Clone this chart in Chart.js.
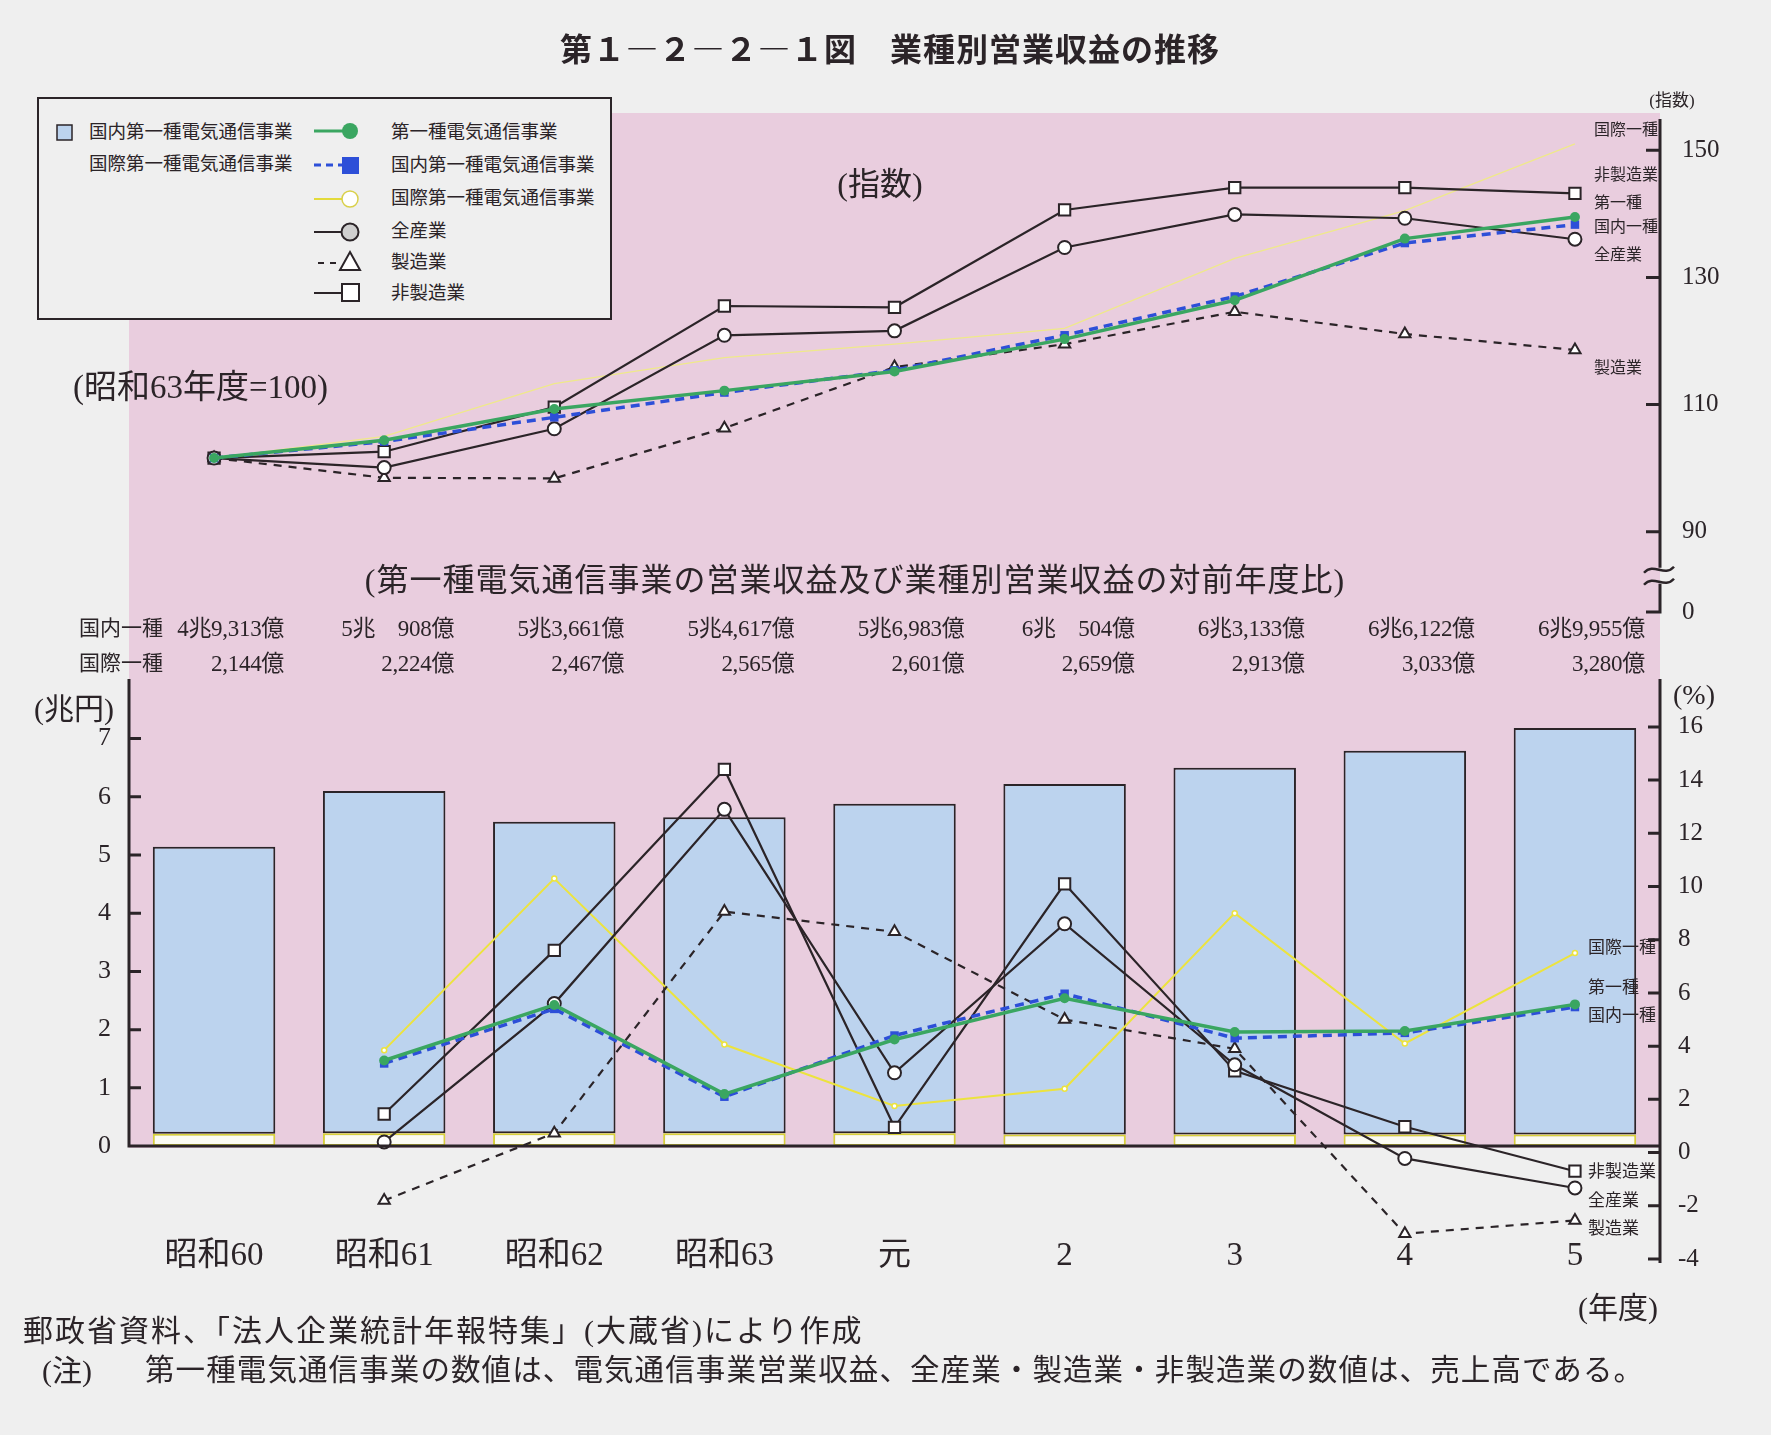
<!DOCTYPE html>
<html lang="ja">
<head>
<meta charset="utf-8">
<title>第1-2-2-1図 業種別営業収益の推移</title>
<script src="https://cdn.jsdelivr.net/npm/chart.js@4.4.1/dist/chart.umd.min.js"></script>
<style>
  html, body { margin: 0; padding: 0; background: #efefef; }
  #page { position: relative; width: 1771px; height: 1435px; overflow: hidden;
          font-family: "Liberation Serif", "Noto Sans CJK JP", serif; color: #2b2428; }
  #pink { position: absolute; left: 129px; top: 113px; width: 1531px; height: 1035px; background: #e9cdde; }
  canvas { position: absolute; left: 0; top: 0; }
  #legend { position: absolute; left: 0; top: 0; }
  .t { position: absolute; white-space: nowrap; line-height: 1; }
</style>
</head>
<body>
<div id="page">
  <div id="pink"></div>
  <canvas id="indexChart" width="1771" height="1435"></canvas>
  <canvas id="revenueChart" width="1771" height="1435"></canvas>
  <svg id="legend" width="620" height="330">
    <rect x="38" y="98" width="573" height="221" fill="#efefef" stroke="#2b2428" stroke-width="2"/>
    <rect x="57" y="125" width="15" height="15" fill="#bcd3ee" stroke="#2b2428" stroke-width="1.5"/>
    <line x1="314" y1="131" x2="348" y2="131" stroke="#3aa661" stroke-width="3"/>
    <circle cx="350" cy="131" r="8" fill="#3aa661"/>
    <line x1="314" y1="165" x2="344" y2="165" stroke="#2d4fd8" stroke-width="3" stroke-dasharray="7 5"/>
    <rect x="342" y="157" width="17" height="17" fill="#2d4fd8"/>
    <line x1="314" y1="199" x2="342" y2="199" stroke="#e3da3a" stroke-width="2"/>
    <circle cx="350" cy="199" r="8" fill="#fff" stroke="#d9d04a" stroke-width="1.5"/>
    <line x1="314" y1="232" x2="342" y2="232" stroke="#2b2428" stroke-width="2"/>
    <circle cx="350" cy="232" r="8.5" fill="#cfcfcf" stroke="#2b2428" stroke-width="2"/>
    <line x1="318" y1="263" x2="340" y2="263" stroke="#2b2428" stroke-width="2" stroke-dasharray="6 6"/>
    <polygon points="350,252 360,270 340,270" fill="#fff" stroke="#2b2428" stroke-width="2"/>
    <line x1="314" y1="293" x2="342" y2="293" stroke="#2b2428" stroke-width="2"/>
    <rect x="342" y="284" width="17" height="17" fill="#fff" stroke="#2b2428" stroke-width="2"/>
  </svg>
  <div id="texts"></div>
</div>
<script>
// 年度
const years = ["昭和60", "昭和61", "昭和62", "昭和63", "元", "2", "3", "4", "5"];

// 上段：指数
const idxTotal    = [101.6, 104.4, 109.3, 112.2, 115.2, 120.3, 126.4, 136.1, 139.5];
const idxDomestic = [101.6, 104.2, 108.0, 111.9, 115.4, 120.9, 127.0, 135.4, 138.3];
const idxIntl     = [101.6, 105.0, 113.3, 117.4, 119.5, 122.0, 133.0, 140.5, 151.0];
const idxAll      = [101.6, 100.1, 106.2, 120.9, 121.6, 134.7, 139.9, 139.3, 136.0];
const idxMfg      = [101.6, 98.5, 98.4, 106.3, 115.9, 119.5, 124.6, 121.1, 118.6];
const idxNonMfg   = [101.6, 102.6, 109.6, 125.5, 125.3, 140.6, 144.1, 144.1, 143.2];
const idxTicks = [90, 110, 130, 150];
const idxMin = 77.4, idxMax = 154.9, idxBreak = 83.1;

// 下段：営業収益（兆円）
const revIntl     = [0.21, 0.22, 0.22, 0.22, 0.22, 0.2, 0.2, 0.2, 0.2];
const revDomestic = [4.93, 5.88, 5.35, 5.43, 5.66, 6.02, 6.30, 6.59, 6.98];
const revDomesticText = ["4兆9,313億", "5兆　908億", "5兆3,661億", "5兆4,617億", "5兆6,983億",
                         "6兆　504億", "6兆3,133億", "6兆6,122億", "6兆9,955億"];
const revIntlText = ["2,144億", "2,224億", "2,467億", "2,565億", "2,601億",
                     "2,659億", "2,913億", "3,033億", "3,280億"];
const yenTicks = [0, 1, 2, 3, 4, 5, 6, 7];

// 下段：対前年度比（%）
const pctTotal    = [null, 3.46, 5.55, 2.2, 4.25, 5.8, 4.53, 4.57, 5.57];
const pctDomestic = [null, 3.35, 5.4, 2.1, 4.4, 5.97, 4.3, 4.5, 5.47];
const pctIntl     = [null, 3.85, 10.3, 4.06, 1.75, 2.4, 9.0, 4.1, 7.5];
const pctAll      = [null, 0.4, 5.6, 12.9, 3.0, 8.6, 3.3, -0.22, -1.33];
const pctMfg      = [null, -1.8, 0.73, 9.06, 8.3, 5.0, 3.9, -3.05, -2.55];
const pctNonMfg   = [null, 1.45, 7.6, 14.4, 0.95, 10.1, 3.07, 0.97, -0.7];
const pctTicks = [-4, -2, 0, 2, 4, 6, 8, 10, 12, 14, 16];

const ink = "#2b2428";
const green = "#3aa661", blue = "#2d4fd8", yellow = "#ece33e";
Chart.defaults.font.family = '"Liberation Serif", "Noto Sans CJK JP", serif';
Chart.defaults.color = ink;

function lineSet(label, data, color, opts) {
    return Object.assign({
        type: "line", label: label, data: data,
        borderColor: color, backgroundColor: "#fff",
        pointBorderColor: color, pointBorderWidth: 2,
        borderWidth: 2.2, tension: 0, order: 1
    }, opts);
}

// 上段の軸（右側・内向き目盛・省略記号）
const indexAxis = {
    id: "indexAxis",
    afterDatasetsDraw(chart) {
        const { ctx, chartArea: a, scales: { y } } = chart;
        const x = a.right;
        const yb = y.getPixelForValue(idxBreak);
        ctx.save();
        ctx.strokeStyle = ink;
        ctx.lineWidth = 3;
        ctx.beginPath();
        ctx.moveTo(x, a.top); ctx.lineTo(x, yb - 8);
        ctx.moveTo(x, yb + 8); ctx.lineTo(x, a.bottom + 1.5);
        [idxMin, ...idxTicks].forEach(v => {
            const py = y.getPixelForValue(v);
            ctx.moveTo(x - 14, py); ctx.lineTo(x + 1.5, py);
        });
        ctx.stroke();
        ctx.lineWidth = 2.5;
        [-6, 6].forEach(d => {
            ctx.beginPath();
            ctx.moveTo(x - 16, yb + d + 3);
            ctx.bezierCurveTo(x - 6, yb + d - 8, x + 4, yb + d + 8, x + 14, yb + d - 3);
            ctx.stroke();
        });
        ctx.restore();
    }
};

// 下段の軸（左右・内向き目盛・基線）
const frameAxes = {
    id: "frameAxes",
    afterDatasetsDraw(chart) {
        const { ctx, chartArea: a, scales: { yL, yR } } = chart;
        const y0 = yL.getPixelForValue(0);
        ctx.save();
        ctx.strokeStyle = ink;
        ctx.lineWidth = 3;
        ctx.beginPath();
        ctx.moveTo(a.left, a.top - 4); ctx.lineTo(a.left, y0); ctx.lineTo(a.right, y0);
        ctx.moveTo(a.right, a.top - 4); ctx.lineTo(a.right, a.bottom + 4);
        yenTicks.forEach(v => {
            const py = yL.getPixelForValue(v);
            ctx.moveTo(a.left, py); ctx.lineTo(a.left + 12, py);
        });
        pctTicks.forEach(v => {
            const py = yR.getPixelForValue(v);
            ctx.moveTo(a.right - 12, py); ctx.lineTo(a.right, py);
        });
        ctx.stroke();
        ctx.restore();
    }
};

new Chart(document.getElementById("indexChart"), {
    type: "line",
    data: {
        labels: years,
        datasets: [
            lineSet("第一種電気通信事業", idxTotal, green, { borderWidth: 3.5, pointStyle: "circle", pointRadius: 5, backgroundColor: green, pointBorderWidth: 0 }),
            lineSet("国内第一種電気通信事業", idxDomestic, blue, { borderWidth: 3.5, borderDash: [9, 6], pointStyle: "rect", pointRadius: 6, backgroundColor: blue, pointBorderWidth: 0 }),
            lineSet("全産業", idxAll, ink, { pointStyle: "circle", pointRadius: 6.5 }),
            lineSet("製造業", idxMfg, ink, { borderDash: [8, 7], pointStyle: "triangle", pointRadius: 6.5 }),
            lineSet("非製造業", idxNonMfg, ink, { pointStyle: "rect", pointRadius: 8 }),
            lineSet("国際第一種電気通信事業", idxIntl, "#efe98a", { borderWidth: 1.3, pointRadius: 0 })
        ]
    },
    options: {
        responsive: false,
        animation: false,
        layout: { padding: { left: 129, top: 119, right: 0, bottom: 1435 - 612 } },
        plugins: { legend: { display: false }, tooltip: { enabled: false } },
        scales: {
            x: { display: false, offset: true },
            y: {
                position: "right", min: idxMin, max: idxMax,
                afterFit(s) { s.width = 111; },
                afterBuildTicks(s) { s.ticks = [idxMin, ...idxTicks].map(v => ({ value: v })); },
                grid: { display: false, drawTicks: false },
                border: { display: false },
                ticks: { padding: 22, font: { size: 25 }, callback: v => (v < 80 ? "0" : v) }
            }
        }
    },
    plugins: [indexAxis]
});

const revenueChart = new Chart(document.getElementById("revenueChart"), {
    data: {
        labels: years,
        datasets: [
            { type: "bar", label: "国際第一種電気通信事業", data: revIntl, yAxisID: "yL", order: 10,
              backgroundColor: "#fbfbf2", borderColor: "#d8d23a", borderWidth: 2, borderSkipped: false,
              barPercentage: 0.72, categoryPercentage: 1 },
            { type: "bar", label: "国内第一種電気通信事業", data: revDomestic, yAxisID: "yL", order: 10,
              backgroundColor: "#bcd3ee", borderColor: ink, borderWidth: 2, borderSkipped: false,
              barPercentage: 0.72, categoryPercentage: 1 },
            lineSet("第一種電気通信事業", pctTotal, green, { yAxisID: "yR", borderWidth: 3.5, pointStyle: "circle", pointRadius: 5, backgroundColor: green, pointBorderWidth: 0 }),
            lineSet("国内第一種電気通信事業", pctDomestic, blue, { yAxisID: "yR", borderWidth: 3.5, borderDash: [9, 6], pointStyle: "rect", pointRadius: 6, backgroundColor: blue, pointBorderWidth: 0 }),
            lineSet("全産業", pctAll, ink, { yAxisID: "yR", pointStyle: "circle", pointRadius: 6.5 }),
            lineSet("製造業", pctMfg, ink, { yAxisID: "yR", borderDash: [8, 7], pointStyle: "triangle", pointRadius: 6.5 }),
            lineSet("非製造業", pctNonMfg, ink, { yAxisID: "yR", pointStyle: "rect", pointRadius: 8 }),
            lineSet("国際第一種電気通信事業", pctIntl, yellow, { yAxisID: "yR", borderWidth: 2, pointRadius: 2.5, pointBorderWidth: 1.5 })
        ]
    },
    options: {
        responsive: false,
        animation: false,
        layout: { padding: { left: 0, top: 683, right: 0, bottom: 0 } },
        plugins: { legend: { display: false }, tooltip: { enabled: false } },
        scales: {
            x: {
                stacked: true, offset: true,
                afterFit(s) { s.height = 1435 - 1259; },
                grid: { display: false, drawTicks: false },
                border: { display: false },
                ticks: { display: false }
            },
            yL: {
                position: "left", stacked: true, min: -1.94, max: 7.955,
                afterFit(s) { s.width = 129; },
                afterBuildTicks(s) { s.ticks = yenTicks.map(v => ({ value: v })); },
                grid: { display: false, drawTicks: false },
                border: { display: false },
                ticks: { padding: 18, font: { size: 26 } }
            },
            yR: {
                position: "right", min: -4, max: 17.65,
                afterFit(s) { s.width = 111; },
                afterBuildTicks(s) { s.ticks = pctTicks.map(v => ({ value: v })); },
                grid: { display: false, drawTicks: false },
                border: { display: false },
                ticks: { padding: 18, font: { size: 25 } }
            }
        }
    },
    plugins: [frameAxes]
});

// 文字
const box = document.getElementById("texts");
function addText(str, x, y, size, anchor, extra) {
    const d = document.createElement("div");
    d.className = "t";
    d.textContent = str;
    d.style.left = x + "px";
    d.style.top = y + "px";
    d.style.fontSize = size + "px";
    const tx = anchor === "center" ? "-50%" : anchor === "right" ? "-100%" : "0";
    d.style.transform = "translate(" + tx + ", -50%)";
    Object.assign(d.style, extra || {});
    box.appendChild(d);
}

addText("第１―２―２―１図　業種別営業収益の推移", 890, 47, 32, "center",
        { fontFamily: '"Noto Sans CJK JP", sans-serif', fontWeight: "bold", letterSpacing: "1px" });

// 凡例
addText("国内第一種電気通信事業", 89, 132, 18.5, "left");
addText("国際第一種電気通信事業", 89, 164, 18.5, "left");
["第一種電気通信事業", "国内第一種電気通信事業", "国際第一種電気通信事業", "全産業", "製造業", "非製造業"]
    .forEach((s, i) => addText(s, 391, [132, 165, 198, 231, 262, 293][i], 18.5, "left"));

// 上段の注記
addText("(指数)", 1672, 100, 17, "center");
addText("(指数)", 880, 184, 32, "center");
addText("(昭和63年度=100)", 73, 387, 33, "left");
[["国際一種", 130], ["非製造業", 175], ["第一種", 203], ["国内一種", 227], ["全産業", 255], ["製造業", 368]]
    .forEach(([s, y]) => addText(s, 1594, y, 16, "left"));

// 中段
addText("(第一種電気通信事業の営業収益及び業種別営業収益の対前年度比)", 855, 580, 32, "center", { letterSpacing: "1px" });
addText("国内一種", 79, 628, 21, "left");
addText("国際一種", 79, 663, 21, "left");
const xs = revenueChart.scales.x;
years.forEach((label, i) => {
    const cx = xs.getPixelForValue(i);
    addText(revDomesticText[i], cx + 70, 628, 23, "right", { letterSpacing: "-0.3px" });
    addText(revIntlText[i], cx + 70, 663, 23, "right", { letterSpacing: "-0.3px" });
    addText(label, cx, 1254, 33, "center");
});

// 下段の注記
addText("(兆円)", 34, 709, 30, "left");
addText("(%)", 1673, 695, 28, "left");
[["国際一種", 947], ["第一種", 987], ["国内一種", 1015], ["非製造業", 1171], ["全産業", 1200], ["製造業", 1228]]
    .forEach(([s, y]) => addText(s, 1588, y, 17, "left"));
addText("(年度)", 1618, 1308, 30, "center");
addText("郵政省資料、「法人企業統計年報特集」(大蔵省)により作成", 23, 1331, 30, "left", { letterSpacing: "2px" });
addText("(注)", 42, 1371, 30, "left");
addText("第一種電気通信事業の数値は、電気通信事業営業収益、全産業・製造業・非製造業の数値は、売上高である。", 145, 1371, 29.5, "left", { letterSpacing: "1.1px" });
</script>
</body>
</html>
